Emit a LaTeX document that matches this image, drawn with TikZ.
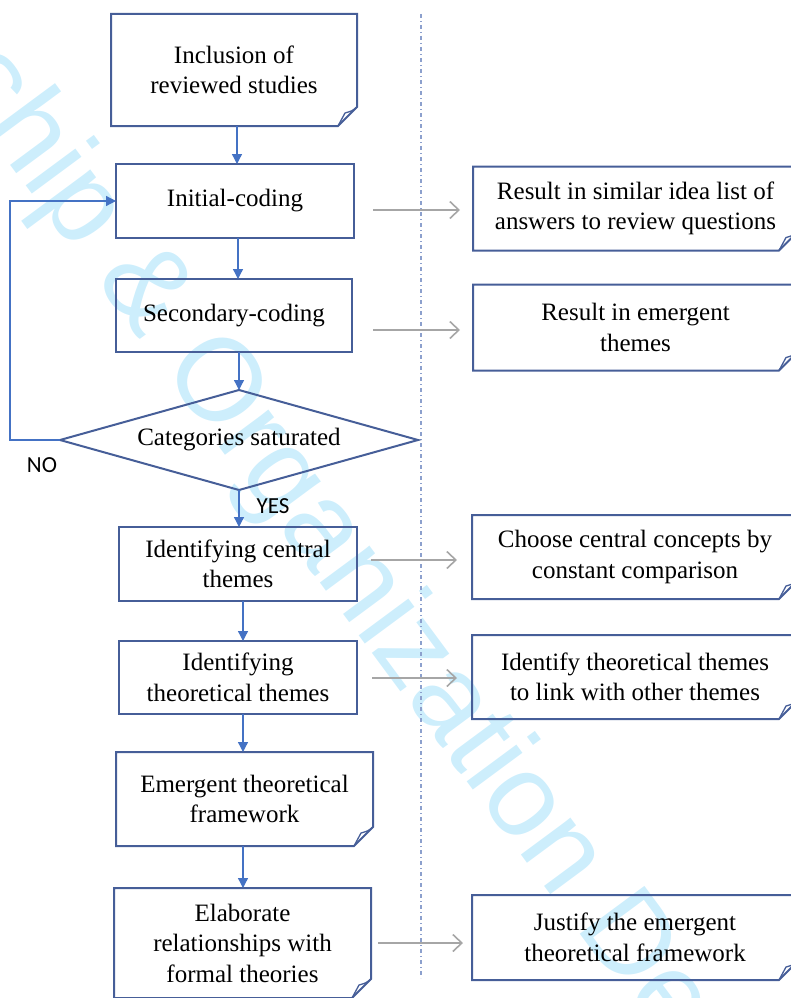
\documentclass[tikz,border=0pt]{standalone}
\usepackage{fontspec}
\setmainfont{Liberation Serif}
\newfontfamily\labelsans{Carlito}
\newfontfamily\wmfont{Liberation Sans}
\usetikzlibrary{arrows.meta,shapes.geometric,calc}

\definecolor{boxc}{RGB}{70,94,152}
\definecolor{arrc}{RGB}{68,114,196}
\definecolor{grayc}{RGB}{166,166,166}
\definecolor{dotc}{RGB}{140,160,205}
\definecolor{wmc}{RGB}{205,238,252}

\tikzset{
  txt/.style={font=\fontsize{25}{30.5}\selectfont, align=center, inner sep=0pt, outer sep=0pt},
  plainbox/.style={txt, draw=boxc, line width=2pt},
  foldnode/.style={txt, draw=none},
  decision/.style={txt, diamond, draw=boxc, line width=2pt, aspect=3.58},
  flowarrow/.style={draw=arrc, line width=1.3pt, -{Triangle[length=10pt,width=10pt]}},
  sidearrow/.style={draw=grayc, line width=1.6pt, -{Straight Barb[length=9pt,width=17pt]}},
  yesno/.style={font=\labelsans\fontsize{23}{23}\selectfont, inner sep=0pt},
  wm/.style={font=\wmfont\fontsize{117}{117}\selectfont, text=wmc, inner sep=0pt}
}

\newcommand{\foldoutline}[1]{%
  \draw[boxc, line width=2pt, line join=miter]
    (#1.north west) -- (#1.north east) -- ([yshift=19pt]#1.south east)
    -- ([xshift=-19pt]#1.south east) -- (#1.south west) -- cycle;
  \draw[boxc, line width=1.3pt, line join=round]
    ([yshift=19pt]#1.south east)
    .. controls ([shift={(-5pt,15pt)}]#1.south east) .. ([shift={(-12pt,13pt)}]#1.south east)
    -- ([xshift=-19pt]#1.south east);
}

\begin{document}
\begin{tikzpicture}[x=1pt,y=-1pt]
\clip (0,0) rectangle (791,998);
\useasboundingbox (0,0) rectangle (791,998);

% watermark
\node[wm, rotate=-53.5, anchor=base west] (wmark) at (-268.8,-212.7) {Leadership \& Organization Development Journal};

% dotted separator
\coordinate (sepTop) at (421,14);
\coordinate (sepBot) at (421,978);
\draw[dotc, line width=1.5pt, dash pattern=on 4pt off 3pt on 1pt off 3pt] (sepTop) -- (sepBot);

% left column
\node[foldnode, minimum width=246pt, minimum height=112pt] (B1) at (234,70) {Inclusion of\\reviewed studies};
\node[plainbox, minimum width=238pt, minimum height=74pt] (B2) at (235,201) {Initial-coding};
\node[plainbox, minimum width=236pt, minimum height=73pt] (B3) at (234,315.5) {Secondary-coding};
\node[decision, minimum width=358pt, minimum height=100pt] (D) at (239,440) {Categories saturated};
\node[plainbox, minimum width=238pt, minimum height=74pt] (B4) at (238,564) {Identifying central\\themes};
\node[plainbox, minimum width=238pt, minimum height=73pt] (B5) at (238,677.5) {Identifying\\theoretical themes};
\node[foldnode, minimum width=257pt, minimum height=94pt] (B6) at (244.5,799) {Emergent theoretical\\framework};
\node[foldnode, minimum width=257pt, minimum height=110pt] (B7) at (242.5,943) {Elaborate\\relationships with\\formal theories};
\foldoutline{B1}
\foldoutline{B6}
\foldoutline{B7}

% right column
\node[foldnode, minimum width=325pt, minimum height=84pt] (R1) at (635.5,208.5) {Result in similar idea list of\\answers to review questions};
\node[foldnode, minimum width=325pt, minimum height=86pt] (R2) at (635.5,327.5) {Result in emergent\\themes};
\node[foldnode, minimum width=326pt, minimum height=84pt] (R3) at (635,557) {Choose central concepts by\\constant comparison};
\node[foldnode, minimum width=326pt, minimum height=84pt] (R4) at (635,677) {Identify theoretical themes\\to link with other themes};
\node[foldnode, minimum width=326pt, minimum height=85pt] (R5) at (635,937.5) {Justify the emergent\\theoretical framework};
\foldoutline{R1}
\foldoutline{R2}
\foldoutline{R3}
\foldoutline{R4}
\foldoutline{R5}

% main flow arrows
\draw[flowarrow] (B1.south -| 237,0) -- (B2.north -| 237,0);
\draw[flowarrow] (B2.south -| 238,0) -- (B3.north -| 238,0);
\draw[flowarrow] (B3.south -| 239,0) -- (D.north);
\draw[flowarrow] (D.south) -- (B4.north -| D.south);
\draw[flowarrow] (B4.south -| 243,0) -- (B5.north -| 243,0);
\draw[flowarrow] (B5.south -| 243,0) -- (B6.north -| 243,0);
\draw[flowarrow] (B6.south -| 243,0) -- (B7.north -| 243,0);

% NO loop
\coordinate (loopL) at (10,440);
\draw[flowarrow] (D.west) -- (loopL) |- (B2.west);
\node[yesno] (no) at (42,465) {NO};
\node[yesno] (yes) at (273,506) {YES};

% side arrows
\coordinate (g1s) at (373,210); \coordinate (g1e) at (460,210);
\coordinate (g2s) at (373,330); \coordinate (g2e) at (460,330);
\coordinate (g3s) at (371,560); \coordinate (g3e) at (457,560);
\coordinate (g4s) at (372,678); \coordinate (g4e) at (457,678);
\coordinate (g5s) at (378,943); \coordinate (g5e) at (463,943);
\draw[sidearrow] (g1s) -- (g1e);
\draw[sidearrow] (g2s) -- (g2e);
\draw[sidearrow] (g3s) -- (g3e);
\draw[sidearrow] (g4s) -- (g4e);
\draw[sidearrow] (g5s) -- (g5e);
\end{tikzpicture}
\end{document}
